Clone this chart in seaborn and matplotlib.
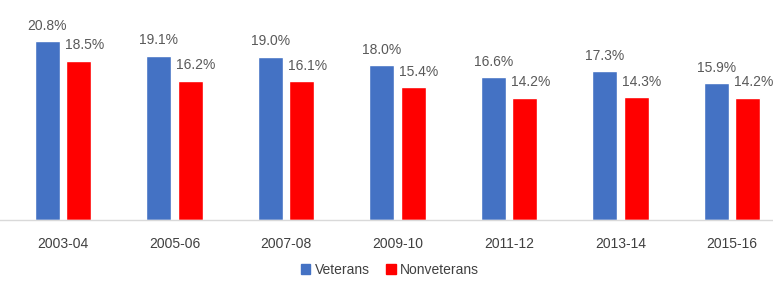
import pandas as pd
import matplotlib.pyplot as plt
import seaborn as sns

years = ["2003-04", "2005-06", "2007-08", "2009-10", "2011-12", "2013-14", "2015-16"]
veterans = [20.8, 19.1, 19.0, 18.0, 16.6, 17.3, 15.9]
nonveterans = [18.5, 16.2, 16.1, 15.4, 14.2, 14.3, 14.2]
groups = ["Veterans", "Nonveterans"]
colors = ["#4472C4", "#FF0000"]

df = pd.DataFrame({
    "year": years * 2,
    "value": veterans + nonveterans,
    "group": [groups[0]] * len(years) + [groups[1]] * len(years),
})

sns.set_style("white")
plt.rcParams["font.family"] = ["Liberation Sans", "DejaVu Sans"]

fig = plt.figure(figsize=(7.73, 2.88), dpi=100)
# one category is ~111.5 px wide; axes starts at the left edge
ax = fig.add_axes([0, 68 / 288, 1, 206 / 288])

sns.barplot(data=df, x="year", y="value", hue="group", palette=colors,
            width=0.565, gap=0.2, saturation=1, ax=ax, legend=False)

unit = 111.5
ax.set_xlim(-0.5 - 7.25 / unit, -0.5 - 7.25 / unit + 773 / unit)
ax.set_ylim(0, 23.94)
ax.set_xlabel("")
ax.set_ylabel("")
ax.set_yticks([])
for s in ["top", "left", "right"]:
    ax.spines[s].set_visible(False)
ax.spines["bottom"].set_color("#d9d9d9")
ax.spines["bottom"].set_linewidth(1)
ax.tick_params(axis="x", length=0, pad=12, labelsize=10, labelcolor="#404040")

# value labels
for i, cont in enumerate(ax.containers):
    for bar in cont:
        h = bar.get_height()
        x = bar.get_x() + bar.get_width() / 2 + (0.05 if i == 1 else 0)
        ax.annotate(f"{h:.1f}%", (x, h), xytext=(0, 6), textcoords="offset points",
                    ha="center", va="bottom", fontsize=10, color="#595959")

handles = [plt.Rectangle((0, 0), 1, 1, color=c) for c in colors]
fig.legend(handles, groups, loc="center", bbox_to_anchor=(390 / 773, 1 - 270 / 288),
           ncol=2, frameon=False, fontsize=10, handlelength=0.7, handleheight=0.7,
           handletextpad=0.3, columnspacing=1.2, labelcolor="#404040")

fig.savefig("out.png", dpi=100)
